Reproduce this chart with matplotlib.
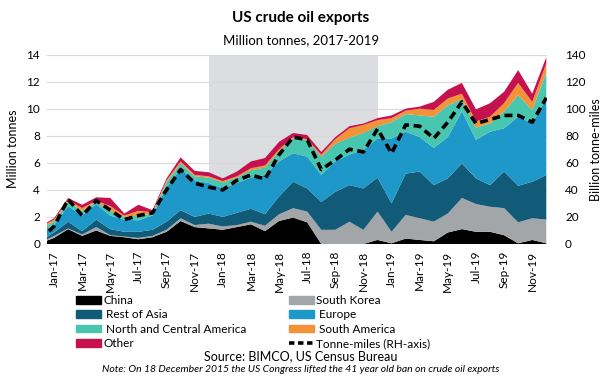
import numpy as np
import matplotlib.pyplot as plt
from matplotlib.patches import Patch
from matplotlib.lines import Line2D

plt.rcParams['font.family'] = ['Lato', 'DejaVu Sans']

# Dec-16 is only there so the area reaches the left edge (clipped by xlim)
months = ['Dec-16',
          'Jan-17', 'Feb-17', 'Mar-17', 'Apr-17', 'May-17', 'Jun-17',
          'Jul-17', 'Aug-17', 'Sep-17', 'Oct-17', 'Nov-17', 'Dec-17',
          'Jan-18', 'Feb-18', 'Mar-18', 'Apr-18', 'May-18', 'Jun-18',
          'Jul-18', 'Aug-18', 'Sep-18', 'Oct-18', 'Nov-18', 'Dec-18',
          'Jan-19', 'Feb-19', 'Mar-19', 'Apr-19', 'May-19', 'Jun-19',
          'Jul-19', 'Aug-19', 'Sep-19', 'Oct-19', 'Nov-19', 'Dec-19']

china = [0.05,
         0.45, 1.1, 0.6, 1.0, 0.6, 0.5, 0.35, 0.5, 0.9, 1.7, 1.25, 1.15,
         1.05, 1.25, 1.45, 0.95, 1.7, 1.95, 1.6, 0.0, 0.0, 0.0, 0.0, 0.3,
         0.05, 0.4, 0.3, 0.2, 0.85, 1.1, 0.9, 0.9, 0.65, 0.05, 0.3, 0.05]
south_korea = [0.05,
               0.15, 0.05, 0.1, 0.25, 0.05, 0.05, 0.1, 0.1, 0.15, 0.2, 0.15, 0.35,
               0.25, 0.15, 0.2, 0.4, 0.5, 0.7, 0.8, 1.05, 1.05, 1.65, 1.05, 2.1,
               0.85, 1.75, 1.6, 1.45, 1.4, 2.3, 2.05, 1.85, 2.0, 1.55, 1.6, 1.75]
rest_asia = [0.1,
             0.25, 0.5, 0.25, 0.55, 0.45, 0.35, 0.45, 0.45, 0.6, 0.6, 0.6, 0.75,
             0.7, 0.9, 0.95, 0.85, 1.3, 1.95, 1.7, 2.05, 2.8, 2.7, 3.05, 2.5,
             2.1, 3.05, 3.45, 2.7, 2.6, 2.55, 1.9, 1.6, 2.7, 2.7, 2.7, 3.3]
europe = [0.7,
          0.55, 1.15, 1.15, 1.15, 1.0, 0.9, 0.85, 1.05, 2.55, 3.05, 2.7, 2.25,
          2.1, 2.2, 2.3, 2.9, 2.6, 2.1, 2.35, 2.0, 2.25, 2.25, 2.85, 2.9,
          4.8, 3.1, 2.55, 2.75, 3.05, 3.85, 2.85, 3.95, 3.2, 5.1, 4.3, 5.7]
nc_america = [0.2,
              0.25, 0.3, 0.35, 0.15, 0.35, 0.2, 0.35, 0.15, 0.35, 0.4, 0.3, 0.4,
              0.45, 0.4, 0.55, 0.55, 0.75, 1.1, 1.2, 1.35, 1.3, 1.25, 1.25, 0.9,
              1.2, 1.3, 1.6, 2.3, 2.35, 0.9, 0.9, 0.6, 1.25, 1.6, 1.0, 1.85]
s_america = [0.15,
             0.15, 0.15, 0.2, 0.1, 0.35, 0.1, 0.35, 0.1, 0.15, 0.15, 0.1, 0.1,
             0.1, 0.1, 0.15, 0.15, 0.15, 0.1, 0.1, 0.15, 0.35, 0.7, 0.6, 0.45,
             0.3, 0.25, 0.5, 0.5, 0.5, 0.4, 0.45, 0.5, 0.6, 0.9, 0.6, 0.7]
other = [0.05,
         0.1, 0.15, 0.25, 0.25, 0.6, 0.15, 0.45, 0.15, 0.15, 0.3, 0.3, 0.3,
         0.2, 0.35, 0.5, 0.55, 0.55, 0.3, 0.3, 0.2, 0.15, 0.15, 0.1, 0.15,
         0.2, 0.15, 0.15, 0.6, 0.65, 0.8, 0.9, 1.0, 0.85, 0.95, 0.6, 0.45]
tonne_miles = [3,
               13, 33, 21, 32, 25, 18, 21, 23, 40, 55, 45, 42,
               40, 47, 51, 48, 66, 79, 77, 55, 62, 70, 68, 85,
               67, 88, 87, 78, 90, 105, 89, 92, 95, 95, 90, 108]

labels = ['China', 'South Korea', ' Rest of Asia', ' Europe',
          ' North and Central America', ' South America', 'Other']
colors = ['#000000', '#a3a6a8', '#115a78', '#1e97c9', '#48c6b0', '#f39237', '#c6114f']

x = np.arange(len(months)) - 1

fig = plt.figure(figsize=(6.02, 3.78), dpi=100)
ax = fig.add_axes([47 / 602, 1 - 244 / 378, 500 / 602, 189.5 / 378])

ax.axvspan(11, 23, color='#dcdde0', zorder=0, lw=0)
ax.stackplot(x, china, south_korea, rest_asia, europe, nc_america, s_america, other,
             colors=colors, zorder=2, lw=0)
ax.set_xlim(-0.5, 35.05)
ax.set_ylim(0, 14)
ax.set_yticks(range(0, 15, 2))
ax.grid(axis='y', color='#d9d9d9', lw=0.8, zorder=1)
ax.set_axisbelow(True)
ax.set_xticks(x[1::2])
ax.set_xticklabels(months[1::2], rotation=90, fontsize=8.5)
ax.tick_params(length=0, labelsize=8.5, pad=5)
ax.set_ylabel('Million tonnes', fontsize=9, labelpad=5)
for s in ax.spines.values():
    s.set_visible(False)

ax2 = ax.twinx()
ax2.plot(x, tonne_miles, color='black', lw=2.6, ls=(0, (2.2, 1.3)), zorder=5)
ax2.set_ylim(0, 140)
ax2.set_yticks(range(0, 141, 20))
ax2.tick_params(length=0, labelsize=8.5, pad=13)
ax2.set_ylabel('Billion tonne-miles', fontsize=9, rotation=90, labelpad=3)
for s in ax2.spines.values():
    s.set_visible(False)

fig.text(0.5, 1 - 18 / 378, 'US crude oil exports', ha='center', va='center',
         fontsize=11, fontweight='bold')
fig.text(0.5, 1 - 40 / 378, 'Million tonnes, 2017-2019', ha='center', va='center',
         fontsize=9.5)

handles = [Patch(color=colors[0]), Patch(color=colors[2]), Patch(color=colors[4]),
           Patch(color=colors[6]), Patch(color=colors[1]), Patch(color=colors[3]),
           Patch(color=colors[5]),
           Line2D([], [], color='black', lw=2.6, ls=(0, (1.5, 1.0)))]
leg_labels = [labels[0], labels[2], labels[4], labels[6], labels[1], labels[3],
              labels[5], 'Tonne-miles (RH-axis)']
fig.legend(handles, leg_labels, ncol=2, loc='upper left',
           bbox_to_anchor=(76 / 602, 1 - 295 / 378), frameon=False, fontsize=8.5,
           handlelength=2.1, handleheight=0.6, handletextpad=0.2,
           labelspacing=0.28, columnspacing=3.6, borderpad=0, borderaxespad=0)

fig.text(0.5, 1 - 356 / 378, 'Source: BIMCO, US Census Bureau', ha='center',
         va='center', fontsize=9)
fig.text(0.5, 1 - 369 / 378,
         'Note: On 18 December 2015 the US Congress lifted the 41 year old ban on crude oil exports',
         ha='center', va='center', fontsize=7.5, style='italic')

fig.savefig('out.png', dpi=100)
